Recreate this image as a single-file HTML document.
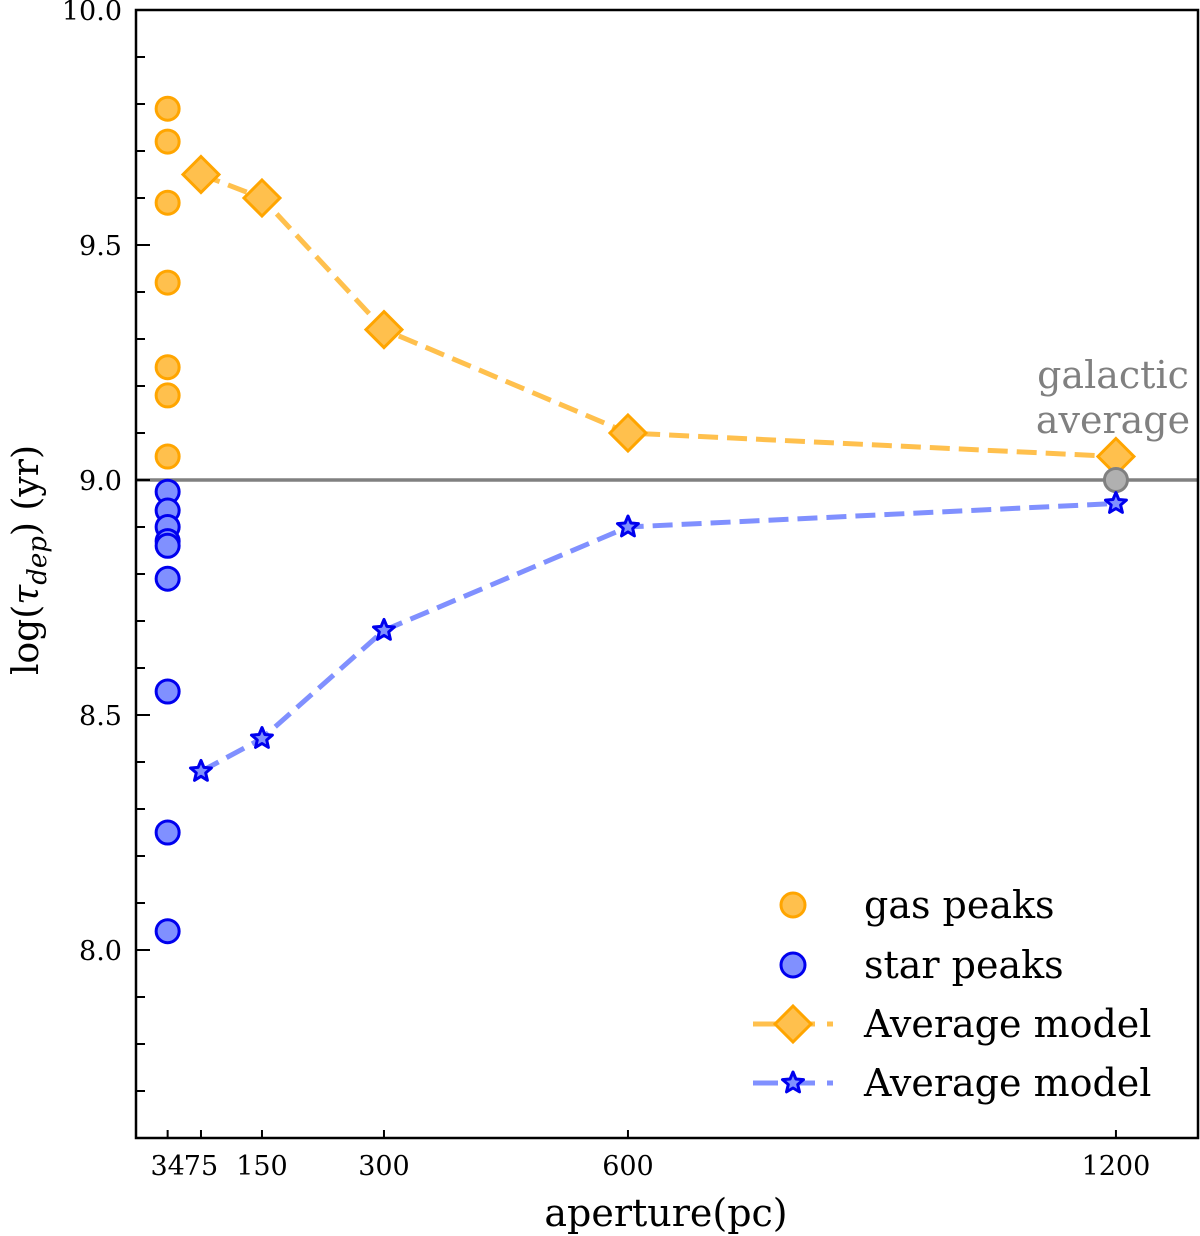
<!DOCTYPE html>
<html><head><meta charset="utf-8"><style>
html,body{margin:0;padding:0;background:#fff;}
svg{display:block;font-family:"DejaVu Serif","Liberation Serif",serif;}
</style></head><body>
<svg id="chart" width="1200" height="1236" viewBox="0 0 1200 1236" xmlns="http://www.w3.org/2000/svg">
<g id="marks"></g>
<g id="axes"></g>
<g id="legend"></g>
</svg>
<script>
const gasPeaks = [9.79, 9.72, 9.59, 9.42, 9.24, 9.18, 9.05];
const starPeaks = [8.975, 8.935, 8.90, 8.87, 8.86, 8.79, 8.55, 8.25, 8.04];
const peakAperture = 34;
const apertures = [75, 150, 300, 600, 1200];
const gasAvg = [9.65, 9.60, 9.32, 9.10, 9.05];
const starAvg = [8.38, 8.45, 8.68, 8.90, 8.95];
const galacticAvg = 9.0;
const xTicks = [34, 75, 150, 300, 600, 1200];
const yTicks = [8.0, 8.5, 9.0, 9.5, 10.0];

const L=136,R=1198,T=10,B=1138;
const X0=-4.9,X1=1300.9,Y0=7.6,Y1=10.0;
const sx=v=>L+(v-X0)/(X1-X0)*(R-L);
const sy=v=>B-(v-Y0)/(Y1-Y0)*(B-T);
const NS="http://www.w3.org/2000/svg";
function mk(tag,attrs,parent){const e=document.createElementNS(NS,tag);for(const k in attrs)e.setAttribute(k,attrs[k]);parent.appendChild(e);return e;}
const marks=document.getElementById('marks'),axes=document.getElementById('axes'),legend=document.getElementById('legend');
const ORF="#ffc04d",ORS="#ffa500",BF="#8090ff",BS="#0000ee";
function star(cx,cy,r){let p=[];for(let i=0;i<10;i++){const a=-Math.PI/2+i*Math.PI/5;const rr=i%2?r*0.45:r;p.push((cx+rr*Math.cos(a)).toFixed(1)+","+(cy+rr*Math.sin(a)).toFixed(1));}return p.join(" ");}
function diamond(cx,cy,r){return `${cx},${cy-r} ${cx+r},${cy} ${cx},${cy+r} ${cx-r},${cy}`;}

let gl=mk('line',{x1:L,x2:R,y1:sy(galacticAvg),y2:sy(galacticAvg),stroke:'#808080','stroke-width':3.5},marks);



let gpath=mk('polyline',{points:apertures.map((a,i)=>sx(a)+","+sy(gasAvg[i])).join(" "),fill:'none',stroke:ORF,'stroke-width':5,'stroke-dasharray':'20,9'},marks);


let spath=mk('polyline',{points:apertures.map((a,i)=>sx(a)+","+sy(starAvg[i])).join(" "),fill:'none',stroke:BF,'stroke-width':5,'stroke-dasharray':'20,9'},marks);



gasPeaks.forEach(v=>{const c=mk('circle',{cx:sx(peakAperture),cy:sy(v),r:11.5,fill:ORF,stroke:ORS,'stroke-width':3},marks);

});
starPeaks.forEach(v=>{const c=mk('circle',{cx:sx(peakAperture),cy:sy(v),r:11.5,fill:BF,stroke:BS,'stroke-width':3},marks);

});
apertures.forEach((a,i)=>{const d=mk('polygon',{points:diamond(sx(a),sy(gasAvg[i]),18),fill:ORF,stroke:ORS,'stroke-width':3},marks);

});
let gc=mk('circle',{cx:sx(1200),cy:sy(galacticAvg),r:11.5,fill:'#b0b0b0',stroke:'#808080','stroke-width':3},marks);


apertures.forEach((a,i)=>{const s=mk('polygon',{points:star(sx(a),sy(starAvg[i]),11),fill:BF,stroke:BS,'stroke-width':3,'stroke-linejoin':'round'},marks);

});

let t1=mk('text',{x:1113,y:388,'font-size':38,fill:'#808080','text-anchor':'middle'},marks);t1.textContent='galactic';


let t2=mk('text',{x:1113,y:433,'font-size':38,fill:'#808080','text-anchor':'middle'},marks);t2.textContent='average';



let fr=mk('rect',{x:L,y:T,width:R-L,height:B-T,fill:'none',stroke:'#000','stroke-width':2.5},axes);


for(let v=7.7;v<=10.001;v+=0.1){const major=Math.abs(v*2-Math.round(v*2))<0.01;
mk('line',{x1:L,x2:L+(major?14:9),y1:sy(v),y2:sy(v),stroke:'#000','stroke-width':2},axes);}
yTicks.forEach(v=>{const t=mk('text',{x:L-14,y:sy(v)+10,'font-size':27,'text-anchor':'end',fill:'#000'},axes);t.textContent=v.toFixed(1);

});
xTicks.forEach(v=>{mk('line',{x1:sx(v),x2:sx(v),y1:B,y2:B-8,stroke:'#000','stroke-width':2},axes);
const t=mk('text',{x:sx(v),y:B+37,'font-size':27,'text-anchor':'middle',fill:'#000'},axes);t.textContent=v;

});
let xt=mk('text',{x:666,y:1226,'font-size':38,'text-anchor':'middle'},axes);xt.textContent='aperture(pc)';


let yt=mk('text',{transform:'translate(38,560) rotate(-90)','font-size':36,'text-anchor':'middle'},axes);
yt.innerHTML='log(<tspan font-style="italic">τ</tspan><tspan font-style="italic" font-size="26" dy="8">dep</tspan><tspan dy="-8">) (yr)</tspan>';



const ly=[905,965,1024,1083];const lab=['gas peaks','star peaks','Average model','Average model'];
mk('circle',{cx:793,cy:ly[0],r:12,fill:ORF,stroke:ORS,'stroke-width':3},legend);
mk('circle',{cx:793,cy:ly[1],r:12,fill:BF,stroke:BS,'stroke-width':3},legend);
mk('line',{x1:753,x2:833,y1:ly[2],y2:ly[2],stroke:ORF,'stroke-width':5,'stroke-dasharray':'25,12'},legend);
mk('polygon',{points:diamond(793,ly[2],18),fill:ORF,stroke:ORS,'stroke-width':3},legend);
mk('line',{x1:753,x2:833,y1:ly[3],y2:ly[3],stroke:BF,'stroke-width':5,'stroke-dasharray':'25,12'},legend);
mk('polygon',{points:star(793,ly[3],11),fill:BF,stroke:BS,'stroke-width':3,'stroke-linejoin':'round'},legend);
lab.forEach((s,i)=>{const t=mk('text',{x:864,y:ly[i]+13,'font-size':38},legend);t.textContent=s;

});
</script>
</body></html>
